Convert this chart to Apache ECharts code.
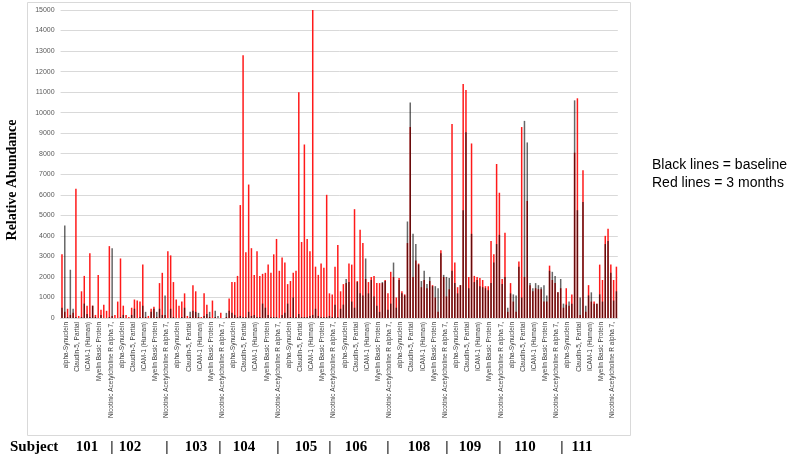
<!DOCTYPE html>
<html>
<head>
<meta charset="utf-8">
<script src="https://cdn.jsdelivr.net/npm/echarts@6/dist/echarts.min.js"></script>
<style>
  html, body { margin: 0; padding: 0; background: #fff; }
  #chart { width: 792px; height: 457px; }
</style>
</head>
<body>
<div id="chart"></div>
<script>
// protein labels repeat for every subject
const proteins = ['alpha-Synuclein', 'Claudin-5, Partial', 'ICAM-1 (Human)', 'Myelin Basic Protein', 'Nicotinic Acetylcholine R alpha 7,'];
const subjects = ['101', '102', '103', '104', '105', '106', '108', '109', '110', '111'];
const yTicks = [0, 1000, 2000, 3000, 4000, 5000, 6000, 7000, 8000, 9000, 10000, 11000, 12000, 13000, 14000, 15000];

// 4 bars per protein, 20 per subject (3 months = red)
const months3 = [
  3100, 300, 450, 150, 250, 6300, 100, 1300, 2050, 600, 3150, 600, 150, 2100, 400, 650, 350, 3500, 100, 150,
  800, 2900, 600, 150, 50, 500, 900, 850, 800, 2600, 50, 100, 450, 550, 50, 1700, 2200, 150, 3250, 3050,
  1750, 900, 600, 800, 1200, 100, 50, 1600, 1300, 50, 50, 1200, 650, 50, 850, 50, 0, 250, 0, 50,
  950, 1750, 1750, 2050, 5500, 12800, 3200, 6500, 3400, 2100, 3250, 2050, 2150, 2200, 2600, 2200, 3100, 3850, 2300, 2950,
  2700, 1650, 1800, 2200, 2300, 11000, 3700, 8450, 3850, 3250, 15000, 2500, 2100, 2650, 2450, 6000, 1200, 1150, 2500, 3550,
  1300, 1650, 1700, 2650, 2600, 5300, 1800, 4300, 3650, 1900, 1750, 2000, 2050, 1700, 1700, 1700, 1850, 1200, 2250, 2000,
  1000, 1950, 1300, 1150, 3650, 9300, 2000, 2800, 2650, 1500, 1850, 1450, 1800, 1600, 1000, 300, 3300, 2000, 1050, 1400,
  9450, 2700, 1500, 1600, 11400, 11100, 2000, 8500, 2050, 2000, 1950, 1850, 1550, 1550, 3750, 3100, 7500, 6100, 1900, 4150,
  300, 1700, 800, 300, 2750, 9300, 2000, 5700, 1600, 1300, 1450, 1400, 1400, 800, 800, 2550, 1850, 1700, 1250, 1450,
  500, 1450, 600, 1150, 8050, 10700, 150, 7200, 300, 1600, 800, 800, 700, 2600, 1850, 4000, 4350, 2600, 1850, 2500
];

// baseline = black
const baseline = [
  500, 4500, 50, 2350, 450, 50, 0, 50, 700, 200, 50, 600, 50, 0, 150, 0, 0, 50, 3400, 0,
  0, 50, 150, 0, 0, 150, 450, 0, 50, 600, 300, 0, 300, 450, 300, 450, 150, 1100, 0, 450,
  50, 0, 0, 50, 500, 0, 300, 350, 300, 250, 0, 100, 200, 300, 0, 350, 100, 0, 0, 250,
  350, 250, 150, 50, 100, 50, 50, 300, 100, 150, 50, 50, 700, 500, 150, 50, 50, 50, 0, 150,
  250, 700, 50, 1000, 50, 200, 50, 50, 50, 100, 150, 450, 100, 50, 50, 50, 100, 50, 650, 50,
  450, 650, 1900, 1750, 800, 500, 1750, 1200, 1100, 2900, 1200, 1850, 1050, 600, 300, 1750, 1800, 400, 700, 2700,
  500, 1850, 1200, 1100, 4700, 10500, 4100, 3600, 2600, 1800, 2300, 1650, 2000, 1550, 1550, 1450, 3150, 2100, 2000, 1950,
  2300, 1700, 1200, 1600, 5250, 9050, 1450, 4100, 1750, 1850, 1550, 1500, 1450, 1350, 1700, 2700, 3600, 4050, 1650, 2000,
  500, 1200, 1150, 1100, 2500, 1000, 9600, 8550, 1700, 1450, 1700, 1600, 1500, 1600, 1100, 2300, 2250, 2050, 1250, 1900,
  700, 650, 800, 700, 10600, 5250, 1000, 5650, 600, 1100, 1250, 700, 700, 1150, 800, 3600, 3750, 2200, 850, 1300
];

const categories = subjects.flatMap(() => proteins);
const SLOTS = 4;

const chart = echarts.init(document.getElementById('chart'));

function slotSeries(values, name, axisIndex, color) {
  const list = [];
  for (let k = 0; k < SLOTS; k++) {
    list.push({
      name: name,
      type: 'bar',
      xAxisIndex: axisIndex,
      data: categories.map((c, i) => values[i * SLOTS + k]),
      barWidth: 1.5,
      barGap: '86%',
      itemStyle: { color: color },
      silent: true,
      animation: false
    });
  }
  return list;
}

// subject row under the axis labels (hand-placed in the original)
const subjectX = [87, 130, 196, 244, 306, 356, 419, 470, 525, 582];
const dividerX = [112, 167, 220, 278, 330, 388, 447, 500, 562];
const serifBold = { fontFamily: 'Liberation Serif', fontWeight: 'bold', fontSize: 15, fill: '#000' };

const graphics = [
  { type: 'rect', shape: { x: 27.5, y: 2.5, width: 603, height: 433 }, style: { fill: 'none', stroke: '#d9d9d9', lineWidth: 1 }, silent: true },
  { type: 'text', x: 12, y: 180, rotation: Math.PI / 2,
    style: { text: 'Relative Abundance', fontFamily: 'Liberation Serif', fontWeight: 'bold', fontSize: 14, fill: '#000', align: 'center', verticalAlign: 'middle' } },
  { type: 'text', x: 10, y: 447, style: Object.assign({ text: 'Subject', align: 'left', verticalAlign: 'middle' }, serifBold) },
  { type: 'text', x: 652, y: 165, style: { text: 'Black lines = baseline', fontFamily: 'Liberation Sans', fontSize: 14, fill: '#000', verticalAlign: 'middle' } },
  { type: 'text', x: 652, y: 183, style: { text: 'Red lines = 3 months', fontFamily: 'Liberation Sans', fontSize: 14, fill: '#000', verticalAlign: 'middle' } }
];
subjects.forEach((s, i) => {
  graphics.push({ type: 'text', x: subjectX[i], y: 447, style: Object.assign({ text: s, align: 'center', verticalAlign: 'middle' }, serifBold) });
});
dividerX.forEach(x => {
  graphics.push({ type: 'text', x: x, y: 447, style: Object.assign({ text: '|', align: 'center', verticalAlign: 'middle' }, serifBold) });
});

const option = {
  backgroundColor: '#fff',
  animation: false,
  grid: { left: 60.6, right: 174.2, top: 10, bottom: 139 },
  xAxis: [
    {
      type: 'category',
      data: categories,
      axisLine: { show: true, lineStyle: { color: '#d9d9d9' } },
      axisTick: { show: false },
      axisLabel: {
        interval: 0,
        rotate: 90,
        margin: 4,
        fontSize: 6.5,
        fontFamily: 'Liberation Sans',
        color: '#404040'
      }
    },
    { type: 'category', data: categories, show: false }
  ],
  yAxis: {
    type: 'value',
    min: yTicks[0],
    max: yTicks[yTicks.length - 1],
    interval: 1000,
    axisLine: { show: false },
    axisTick: { show: false },
    splitLine: { lineStyle: { color: '#d9d9d9', width: 1 } },
    axisLabel: { fontSize: 7, fontFamily: 'Liberation Sans', color: '#595959', margin: 6, formatter: v => String(v) }
  },
  series: [].concat(
    slotSeries(months3, '3 months', 0, '#ff1a1a'),
    slotSeries(baseline, 'baseline', 1, 'rgba(0,0,0,0.6)')
  ),
  graphic: graphics
};

chart.setOption(option);
</script>
</body>
</html>
